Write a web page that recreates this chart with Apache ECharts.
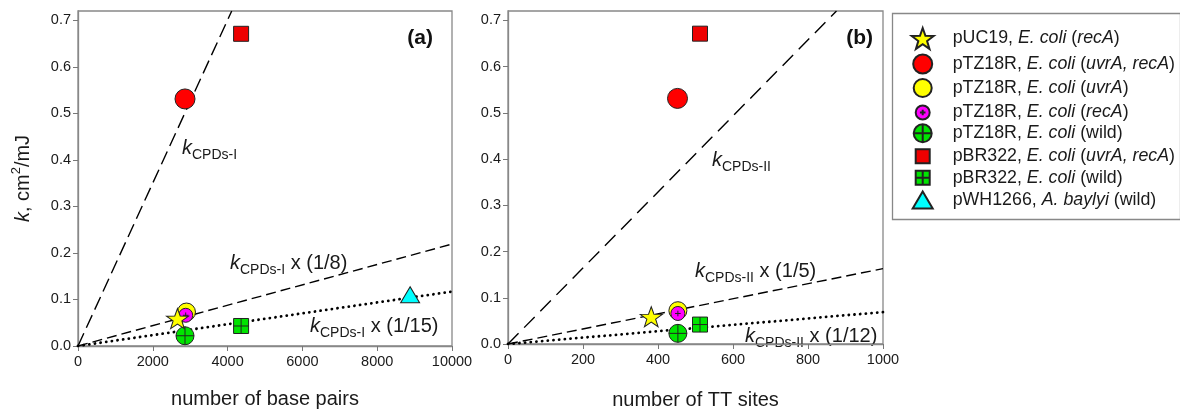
<!DOCTYPE html>
<html>
<head>
<meta charset="utf-8">
<script src="https://cdn.jsdelivr.net/npm/echarts@6/dist/echarts.min.js"></script>
<style>
  html, body { margin: 0; padding: 0; background: #fff; }
  #chart { width: 1180px; height: 415px; }
</style>
</head>
<body>
<div id="chart"></div>
<script>
// ---- data ----
const names = [
  "pUC19, E. coli (recA)",
  "pTZ18R, E. coli (uvrA, recA)",
  "pTZ18R, E. coli (uvrA)",
  "pTZ18R, E. coli (recA)",
  "pTZ18R, E. coli (wild)",
  "pBR322, E. coli (uvrA, recA)",
  "pBR322, E. coli (wild)",
  "pWH1266, A. baylyi (wild)"
];
const basePairs = [2660, 2861, 2900, 2880, 2861, 4361, 4361, 8880];
const kPanelA = [0.059, 0.531, 0.073, 0.066, 0.022, 0.671, 0.043, 0.110];
const ttSites = [382, 452, 453, 453, 453, 512, 512, null];
const kPanelB = [0.059, 0.531, 0.072, 0.066, 0.023, 0.671, 0.042, null];

// fitted lines, end points where they leave the frame
const lineA = [[0, 0], [4110, 0.72]];
const lineA8 = [[0, 0], [10000, 0.219]];
const lineA15 = [[0, 0], [10000, 0.117]];
const lineB = [[0, 0], [876, 0.72]];
const lineB5 = [[0, 0], [1000, 0.163]];
const lineB12 = [[0, 0], [1000, 0.069]];

const yTicks = [0, 0.1, 0.2, 0.3, 0.4, 0.5, 0.6, 0.7];

// ---- styles ----
const FONT = "Liberation Sans, Arial, sans-serif";
const STAR = "path://M0,-10L2.35,-3.24L9.51,-3.09L3.8,1.24L5.88,8.09L0,4L-5.88,8.09L-3.8,1.24L-9.51,-3.09L-2.35,-3.24Z";
const CIRCLE_CROSS = "path://M-10,0A10,10,0,1,0,10,0A10,10,0,1,0,-10,0ZM-10,0L10,0M0,-10L0,10";
const CIRCLE_PLUS = "path://M-10,0A10,10,0,1,0,10,0A10,10,0,1,0,-10,0ZM-4,0L4,0M0,-4L0,4";
const SQUARE_CROSS = "path://M-10,-10L10,-10L10,10L-10,10ZM-10,0L10,0M0,-10L0,10";

const markers = [
  { symbol: STAR, size: [22, 21], color: "#ffff00", z: 4 },
  { symbol: "circle", size: 20, color: "#ff0000", z: 3 },
  { symbol: "circle", size: 18, color: "#ffff00", z: 3 },
  { symbol: CIRCLE_PLUS, size: 14, color: "#ff00ff", z: 3 },
  { symbol: CIRCLE_CROSS, size: 18, color: "#00e400", z: 3 },
  { symbol: "rect", size: 15, color: "#ee0000", z: 3 },
  { symbol: SQUARE_CROSS, size: 15, color: "#00e400", z: 3 },
  { symbol: "triangle", size: [19, 16], color: "#00ffff", z: 3 }
];
const legendRich = [
  "{n|pUC19, }{i|E. coli}{n| (}{i|recA}{n|)}",
  "{n|pTZ18R, }{i|E. coli}{n| (}{i|uvrA, recA}{n|)}",
  "{n|pTZ18R, }{i|E. coli}{n| (}{i|uvrA}{n|)}",
  "{n|pTZ18R, }{i|E. coli}{n| (}{i|recA}{n|)}",
  "{n|pTZ18R, }{i|E. coli}{n| (wild)}",
  "{n|pBR322, }{i|E. coli}{n| (}{i|uvrA, recA}{n|)}",
  "{n|pBR322, }{i|E. coli}{n| (wild)}",
  "{n|pWH1266, }{i|A. baylyi}{n| (wild)}"
];
const legendIcon = [[22, 21], [19, 19], [18, 18], [14, 14], [18, 18], [14, 14], [14, 14], [20, 17]];
const legendRowY = [37.5, 63, 87, 110.5, 132.3, 154.3, 175.7, 199];
const iconCenterX = 921.7, legendTextX = 951.7;

const chart = echarts.init(document.getElementById("chart"));

function axisY(gridIndex) {
  return {
    type: "value", gridIndex: gridIndex, min: 0, max: 0.72,
    axisLine: { show: true, lineStyle: { color: "#888", width: 1.3 } },
    axisTick: { show: true, length: 5, customValues: yTicks, lineStyle: { color: "#777" } },
    axisLabel: {
      customValues: yTicks, color: "#1a1a1a", fontSize: 14.5, fontFamily: FONT, margin: 7,
      formatter: v => v.toFixed(1)
    },
    splitLine: { show: false },
    name: gridIndex === 0 ? "{i|k}{n|, cm}{p|2}{n|/mJ}" : "",
    nameLocation: "middle", nameGap: 42, nameRotate: 90,
    nameTextStyle: {
      rich: {
        i: { fontSize: 20, fontStyle: "italic", fontFamily: FONT, color: "#1a1a1a", lineHeight: 26 },
        n: { fontSize: 20, fontFamily: FONT, color: "#1a1a1a", lineHeight: 26 },
        p: { fontSize: 13, fontFamily: FONT, color: "#1a1a1a", lineHeight: 13, verticalAlign: "top" }
      }
    }
  };
}
function axisX(gridIndex, max, interval, name, gap) {
  return {
    type: "value", gridIndex: gridIndex, min: 0, max: max, interval: interval,
    axisLine: { show: true, onZero: false, lineStyle: { color: "#888", width: 1.3 } },
    axisTick: { show: true, length: 5, lineStyle: { color: "#777" } },
    axisLabel: { color: "#1a1a1a", fontSize: 14.5, fontFamily: FONT, margin: 8, formatter: v => String(v) },
    splitLine: { show: false },
    name: name, nameLocation: "middle", nameGap: gap,
    nameTextStyle: { fontSize: 20, fontFamily: FONT, color: "#1a1a1a" }
  };
}
function fitLine(name, data, gi, dash, width, cap) {
  return {
    name: name, type: "line", xAxisIndex: gi, yAxisIndex: gi, data: data,
    showSymbol: false, silent: true, z: 1, clip: true,
    lineStyle: { color: "#000", width: width, type: dash, cap: cap || "butt" }
  };
}

const series = [
  fitLine("kA", lineA, 0, [14, 6], 1.4),
  fitLine("kA8", lineA8, 0, [10, 5], 1.4),
  fitLine("kA15", lineA15, 0, [0.1, 5.6], 2.8, "round"),
  fitLine("kB", lineB, 1, [15, 8], 1.4),
  fitLine("kB5", lineB5, 1, [10, 5], 1.4),
  fitLine("kB12", lineB12, 1, [0.1, 5.6], 2.8, "round")
];
names.forEach((nm, i) => {
  const m = markers[i];
  const common = {
    name: nm, type: "scatter", symbol: m.symbol, symbolSize: m.size, symbolKeepAspect: true, z: m.z,
    itemStyle: { color: m.color, borderColor: "#222", borderWidth: 1, opacity: 1 }
  };
  series.push(Object.assign({}, common, { xAxisIndex: 0, yAxisIndex: 0, data: [[basePairs[i], kPanelA[i]]] }));
  if (ttSites[i] != null) {
    series.push(Object.assign({}, common, { xAxisIndex: 1, yAxisIndex: 1, data: [[ttSites[i], kPanelB[i]]] }));
  }
});

const legends = names.map((nm, i) => {
  const w = legendIcon[i][0], h = legendIcon[i][1];
  return {
    data: [nm], orient: "vertical", selectedMode: false, padding: 0,
    left: iconCenterX - w / 2, top: legendRowY[i] - h / 2,
    itemWidth: w, itemHeight: h,
    formatter: () => "{sp|}" + legendRich[i],
    textStyle: {
      rich: {
        sp: { width: legendTextX - (iconCenterX + w / 2) - 5 },
        n: { fontSize: 17.8, fontFamily: FONT, color: "#1a1a1a" },
        i: { fontSize: 17.8, fontFamily: FONT, fontStyle: "italic", color: "#1a1a1a" }
      }
    }
  };
});

function note(x, y, sub, tail) {
  return {
    type: "text", x: x, y: y, silent: true,
    style: {
      text: "{k|k}{s|" + sub + "}" + (tail ? "{n| " + tail + "}" : ""),
      rich: {
        k: { fontSize: 20, fontStyle: "italic", fontFamily: FONT, fill: "#1a1a1a", lineHeight: 28 },
        s: { fontSize: 14, fontFamily: FONT, fill: "#1a1a1a", lineHeight: 14, verticalAlign: "bottom" },
        n: { fontSize: 20, fontFamily: FONT, fill: "#1a1a1a", lineHeight: 28 }
      }
    }
  };
}

chart.setOption({
  animation: false,
  backgroundColor: "#fff",
  grid: [
    { left: 78, top: 11, width: 374, height: 335, show: true, borderColor: "#888", borderWidth: 1.3, backgroundColor: "transparent" },
    { left: 508, top: 11, width: 375, height: 335, show: true, borderColor: "#888", borderWidth: 1.3, backgroundColor: "transparent" }
  ],
  xAxis: [
    axisX(0, 10000, 2000, "number of base pairs", 43),
    axisX(1, 1000, 200, "number of TT sites", 46)
  ],
  yAxis: [axisY(0), axisY(1)],
  legend: legends,
  series: series,
  graphic: [
    { type: "rect", left: 890, top: 11, shape: { width: 288, height: 206 }, style: { fill: "none", stroke: "#888", lineWidth: 1.3 }, silent: true },
    { type: "text", x: 433, y: 38, style: { text: "(a)", fontSize: 21, fontWeight: "bold", fontFamily: FONT, fill: "#111", align: "right", verticalAlign: "middle" } },
    { type: "text", x: 873, y: 38, style: { text: "(b)", fontSize: 21, fontWeight: "bold", fontFamily: FONT, fill: "#111", align: "right", verticalAlign: "middle" } },
    note(182, 134, "CPDs-I"),
    note(230, 249, "CPDs-I", "x (1/8)"),
    note(310, 312, "CPDs-I", "x (1/15)"),
    note(712, 146, "CPDs-II"),
    note(695, 257, "CPDs-II", "x (1/5)"),
    note(745, 322, "CPDs-II", "x (1/12)")
  ]
});
</script>
</body>
</html>
